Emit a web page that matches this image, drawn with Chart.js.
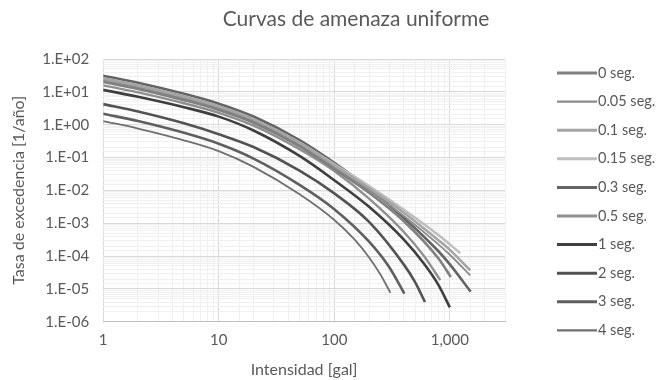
<!DOCTYPE html>
<html>
<head>
<meta charset="utf-8">
<script src="https://cdn.jsdelivr.net/npm/chart.js@4.4.1/dist/chart.umd.min.js"></script>
<style>
  html, body { margin: 0; background: #fff; }
  #wrap { width: 658px; height: 380px; }
</style>
</head>
<body>
<div id="wrap"><canvas id="chart"></canvas></div>
<script>
const chartTitle = 'Curvas de amenaza uniforme';

// periods shown in the legend
const periods = ['0 seg.', '0.05 seg.', '0.1 seg.', '0.15 seg.', '0.3 seg.', '0.5 seg.', '1 seg.', '2 seg.', '3 seg.', '4 seg.'];

// intensity [gal] and exceedance rate [1/año]
const int0 = [1, 2, 5, 10, 20, 50, 100, 200, 400, 800, 1020];
const rate0 = [20.0, 12.3, 5.6, 2.82, 1.15, 0.22, 0.0447, 8.5e-3, 1.15e-3, 8.3e-5, 2.3e-5];

const int005 = [1, 2, 5, 10, 20, 50, 100, 200, 400, 800, 1000, 1500];
const rate005 = [21.9, 13.5, 6.2, 3.09, 1.26, 0.242, 0.049, 0.010, 1.66e-3, 2.24e-4, 1.1e-4, 2.6e-5];

const int01 = [1, 2, 5, 10, 20, 50, 100, 200, 400, 800, 1000, 1500];
const rate01 = [25.7, 15.8, 7.3, 3.63, 1.48, 0.284, 0.0575, 0.0117, 2.09e-3, 3.0e-4, 1.55e-4, 3.7e-5];

const int015 = [1, 2, 5, 10, 20, 50, 100, 200, 400, 800, 1230];
const rate015 = [24.0, 14.8, 6.8, 3.39, 1.43, 0.286, 0.0624, 0.0135, 2.57e-3, 4.3e-4, 1.23e-4];

const int03 = [1, 2, 5, 10, 20, 50, 100, 200, 400, 800, 1000, 1515];
const rate03 = [30.9, 19.0, 8.7, 4.37, 1.77, 0.341, 0.0692, 0.0115, 1.45e-3, 1.38e-4, 5.6e-5, 8.3e-6];

const int05 = [1, 2, 5, 10, 20, 50, 100, 200, 400, 600, 826];
const rate05 = [15.8, 9.6, 4.5, 2.30, 0.933, 0.179, 0.0389, 5.6e-3, 5.4e-4, 9.8e-5, 1.86e-5];

const int1 = [1, 2, 5, 10, 20, 50, 100, 200, 400, 600, 800, 1000];
const rate1 = [11.5, 7.06, 3.40, 1.76, 0.667, 0.112, 0.0204, 3.16e-3, 3.16e-4, 5.75e-5, 1.29e-5, 2.75e-6];

const int2 = [1, 2, 5, 10, 20, 50, 100, 200, 400, 500, 609];
const rate2 = [4.23, 2.51, 1.10, 0.513, 0.209, 0.0402, 8.1e-3, 1.10e-3, 5.5e-5, 1.62e-5, 4.0e-6];

const int3 = [1, 2, 5, 10, 20, 50, 100, 200, 300, 404];
const rate3 = [2.16, 1.29, 0.564, 0.263, 0.0933, 0.0148, 2.69e-3, 2.75e-4, 4.5e-5, 7.2e-6];

const int4 = [1, 2, 5, 10, 20, 50, 100, 150, 200, 250, 306];
const rate4 = [1.29, 0.766, 0.336, 0.157, 0.0519, 7.6e-3, 1.26e-3, 3.16e-4, 9.1e-5, 2.8e-5, 7.6e-6];

const curves = [
  [int0, rate0], [int005, rate005], [int01, rate01], [int015, rate015], [int03, rate03],
  [int05, rate05], [int1, rate1], [int2, rate2], [int3, rate3], [int4, rate4]
];

const lineColors = ['#808080', '#8c8c8c', '#a5a5a5', '#bfbfbf', '#646464', '#8f8f8f', '#3f3f3f', '#535353', '#5f5f5f', '#707070'];
const lineWidths = [2.6, 1.8, 2.6, 2.6, 2.6, 2.4, 2.6, 2.6, 2.6, 1.8];

const isDecade = (v) => Math.abs(Math.log10(v) - Math.round(Math.log10(v))) < 1e-9;

const datasets = curves.map(([xs, ys], i) => ({
  label: periods[i],
  data: xs.map((x, j) => ({ x: x, y: ys[j] })),
  borderColor: lineColors[i],
  backgroundColor: lineColors[i],
  borderWidth: lineWidths[i],
  pointRadius: 0,
  cubicInterpolationMode: 'monotone',
  fill: false,
}));

const gridColor = (ctx) => (ctx.tick && isDecade(ctx.tick.value) ? '#d9d9d9' : '#f0f0f0');
const textColor = '#595959';
const font = 'Lato';

// title and legend sit where Excel put them, so draw them by hand
const excelDecor = {
  id: 'excelDecor',
  afterDraw(chart) {
    const ctx = chart.ctx;
    ctx.save();
    ctx.fillStyle = textColor;
    ctx.textBaseline = 'middle';
    ctx.textAlign = 'center';
    ctx.font = '21px ' + font;
    ctx.fillText(chartTitle, 356, 19);

    ctx.textAlign = 'left';
    ctx.font = '14.5px ' + font;
    chart.data.datasets.forEach((ds, i) => {
      const y = 73 + i * 28.6;
      ctx.strokeStyle = ds.borderColor;
      ctx.lineWidth = ds.borderWidth + 0.4;
      ctx.beginPath();
      ctx.moveTo(557, y);
      ctx.lineTo(597, y);
      ctx.stroke();
      ctx.fillText(ds.label, 598, y);
    });
    ctx.restore();
  },
};

new Chart(document.getElementById('chart'), {
  type: 'line',
  data: { datasets: datasets },
  plugins: [excelDecor],
  options: {
    responsive: true,
    maintainAspectRatio: false,
    animation: false,
    layout: { padding: { left: 9, right: 153, top: 59, bottom: 1 } },
    plugins: {
      title: { display: false },
      legend: { display: false },
      tooltip: { enabled: false },
    },
    scales: {
      x: {
        type: 'logarithmic',
        min: 1,
        max: 3000,
        grid: { color: gridColor, drawTicks: false },
        border: { color: '#bfbfbf' },
        ticks: {
          autoSkip: false,
          maxRotation: 0,
          color: textColor,
          font: { family: font, size: 15 },
          padding: 9,
          callback: (v) => (isDecade(v) ? Number(v).toLocaleString('en-US') : ''),
        },
        title: {
          display: true,
          text: 'Intensidad [gal]',
          color: textColor,
          font: { family: font, size: 16 },
          padding: { top: 2, bottom: 0 },
        },
      },
      y: {
        type: 'logarithmic',
        min: 1e-6,
        max: 100,
        grid: { color: gridColor, drawTicks: false },
        border: { display: false },
        ticks: {
          autoSkip: false,
          color: textColor,
          font: { family: font, size: 15 },
          padding: 14,
          callback: (v) => {
            if (!isDecade(v)) return '';
            const e = Math.round(Math.log10(v));
            return '1.E' + (e < 0 ? '-' : '+') + String(Math.abs(e)).padStart(2, '0');
          },
        },
        title: {
          display: true,
          text: 'Tasa de excedencia [1/año]',
          color: textColor,
          font: { family: font, size: 16 },
          padding: { top: 0, bottom: 0 },
        },
      },
    },
  },
});
</script>
</body>
</html>
